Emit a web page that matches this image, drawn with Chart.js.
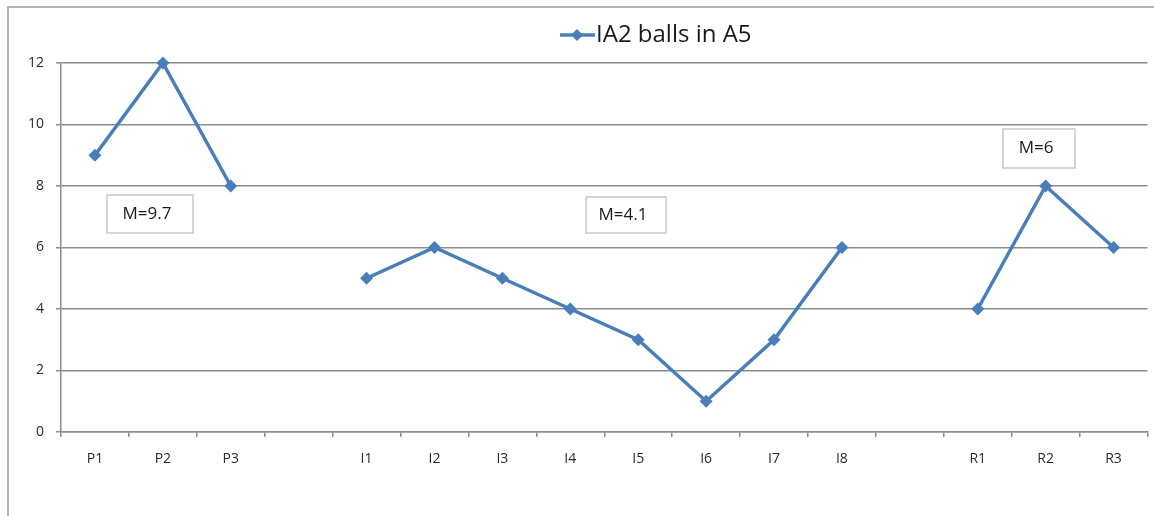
<!DOCTYPE html>
<html lang="en">
  <head>
    <meta charset="UTF-8" />
    <title>IA2 balls in A5</title>
    <script src="https://cdn.jsdelivr.net/npm/chart.js"></script>
    <style>
      html, body { margin: 0; padding: 0; background: #fff; }
      #wrap { width: 1154px; height: 516px; position: relative; }
    </style>
  </head>
  <body>
    <div id="wrap"><canvas id="lineChart" width="1154" height="516"></canvas></div>
    <script>
      // categories (empty entries are the gaps between groups)
      var categories = ["P1", "P2", "P3", "", "I1", "I2", "I3", "I4", "I5", "I6", "I7", "I8", "", "R1", "R2", "R3"];
      var ballsA5 = [9, 12, 8, null, 5, 6, 5, 4, 3, 1, 3, 6, null, 4, 8, 6];
      var yTicks = [0, 2, 4, 6, 8, 10, 12];
      var seriesName = "IA2 balls in A5";

      // mean boxes: text + box placement
      var meanBoxes = [
        { text: "M=9.7", x: 107, y: 195, w: 86, h: 38 },
        { text: "M=4.1", x: 586, y: 197, w: 80, h: 36 },
        { text: "M=6", x: 1003, y: 129, w: 72, h: 39 },
      ];

      var blue = "#4a7ebb";

      // frame, legend and the M= boxes
      var extras = {
        id: "extras",
        afterDraw: function (chart) {
          var ctx = chart.ctx;
          ctx.save();
          // outer frame (top + left only)
          ctx.strokeStyle = "#b4b4b4";
          ctx.lineWidth = 2;
          ctx.beginPath();
          ctx.moveTo(8, 516);
          ctx.lineTo(8, 7);
          ctx.lineTo(1154, 7);
          ctx.stroke();

          // legend
          ctx.strokeStyle = blue;
          ctx.lineWidth = 3.5;
          ctx.beginPath();
          ctx.moveTo(560, 35);
          ctx.lineTo(595, 35);
          ctx.stroke();
          ctx.fillStyle = blue;
          ctx.beginPath();
          ctx.moveTo(577, 29);
          ctx.lineTo(583, 35);
          ctx.lineTo(577, 41);
          ctx.lineTo(571, 35);
          ctx.closePath();
          ctx.fill();
          ctx.fillStyle = "#1a1a1a";
          ctx.font = "24px 'Open Sans'";
          ctx.textBaseline = "middle";
          ctx.textAlign = "left";
          ctx.fillText(chart.data.datasets[0].label, 596, 35);

          // mean boxes
          ctx.font = "17px 'Open Sans'";
          ctx.textAlign = "center";
          meanBoxes.forEach(function (b) {
            ctx.fillStyle = "#fff";
            ctx.fillRect(b.x, b.y, b.w, b.h);
            ctx.strokeStyle = "#c8c8c8";
            ctx.lineWidth = 1.5;
            ctx.strokeRect(b.x, b.y, b.w, b.h);
            ctx.fillStyle = "#1a1a1a";
            ctx.fillText(b.text, b.x + b.w / 2 - 3, b.y + b.h / 2);
          });
          ctx.restore();
        },
      };

      new Chart(document.getElementById("lineChart").getContext("2d"), {
        type: "line",
        data: {
          labels: categories,
          datasets: [
            {
              label: seriesName,
              data: ballsA5,
              borderColor: blue,
              backgroundColor: blue,
              borderWidth: 3.5,
              pointStyle: "rectRot",
              pointRadius: 6.5,
              pointHoverRadius: 6.5,
              pointBorderWidth: 0,
              pointBackgroundColor: blue,
              spanGaps: false,
              tension: 0,
              fill: false,
              clip: false,
            },
          ],
        },
        options: {
          responsive: false,
          animation: false,
          layout: { padding: { top: 63, right: 2, left: 0, bottom: 0 } },
          plugins: {
            legend: { display: false },
            tooltip: { enabled: false },
          },
          scales: {
            x: {
              offset: true,
              grid: {
                offset: true,
                drawOnChartArea: false,
                drawTicks: true,
                tickLength: 5,
                color: "#8c8c8c",
                lineWidth: 1.5,
              },
              border: { color: "#8c8c8c", width: 1.5 },
              ticks: {
                autoSkip: false,
                maxRotation: 0,
                padding: 14,
                color: "#2a2a2a",
                font: { family: "'Open Sans'", size: 14 },
              },
              afterFit: function (s) {
                s.height = 84;
                s.paddingLeft = 0;
                s.paddingRight = 0;
              },
            },
            y: {
              min: 0,
              max: 12,
              afterBuildTicks: function (s) {
                s.ticks = yTicks.map(function (v) { return { value: v }; });
              },
              grid: {
                color: "#8c8c8c",
                lineWidth: 1.5,
                tickLength: 5,
              },
              border: { color: "#8c8c8c", width: 1.5 },
              ticks: {
                padding: 12,
                color: "#2a2a2a",
                font: { family: "'Open Sans'", size: 14 },
              },
              afterFit: function (s) {
                s.width = 61;
                s.paddingTop = 0;
                s.paddingBottom = 0;
              },
            },
          },
        },
        plugins: [extras],
      });
    </script>
  </body>
</html>
